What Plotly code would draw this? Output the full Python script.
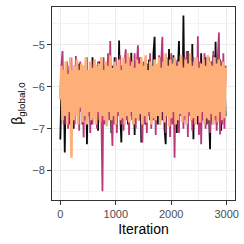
import plotly.graph_objects as go

# Chain values, one sample per 20 iterations
chain1 = [
    -7.26, -6.0, -6.6, -5.7, -7.57, -5.8, -6.5, -5.6, -6.9, -5.5,
    -6.7, -5.7, -7.0, -5.5, -6.6, -5.8, -6.8, -5.45, -6.5, -5.6,
    -6.9, -5.7, -6.6, -5.4, -7.37, -5.6, -6.7, -5.5, -6.9, -5.3,
    -6.6, -5.6, -6.8, -5.5, -7.05, -5.4, -6.7, -5.6, -6.9, -5.5,
    -6.6, -5.45, -6.8, -5.35, -6.7, -5.6, -7.1, -5.5, -6.6, -5.3,
    -6.8, -5.6, -6.7, -4.90, -6.6, -7.33, -5.5, -6.8, -5.4, -6.7,
    -5.5, -6.9, -5.6, -6.6, -5.19, -6.8, -5.5, -7.15, -5.4, -6.7,
    -5.6, -6.8, -5.3, -7.33, -5.5, -6.6, -5.6, -6.9, -5.45, -6.7,
    -5.35, -6.8, -5.5, -6.6, -5.2, -4.81, -6.7, -5.6, -6.9, -5.4,
    -6.6, -5.3, -6.8, -5.5, -7.0, -7.37, -5.6, -6.7, -5.1, -6.9,
    -5.5, -6.6, -5.25, -6.8, -5.4, -7.1, -5.6, -4.91, -6.7, -5.3,
    -6.8, -4.30, -6.6, -5.5, -6.9, -5.15, -6.7, -5.4, -6.8, -4.98,
    -7.25, -5.5, -6.7, -5.3, -6.9, -5.6, -6.6, -5.2, -6.8, -5.45,
    -6.7, -5.3, -6.9, -5.5, -6.6, -7.49, -5.4, -6.8, -5.25, -6.7,
    -4.93, -6.9, -5.5, -6.6, -5.35, -7.05, -5.4, -6.8, -5.6, -6.7,
]
chain2 = [
    -6.2, -5.5, -5.15, -6.9, -5.6, -6.7, -5.4, -7.0, -5.5, -6.6,
    -5.31, -6.8, -5.6, -6.9, -5.27, -6.7, -5.5, -7.05, -5.4, -6.6,
    -5.6, -7.21, -5.5, -6.8, -5.3, -6.7, -5.6, -7.1, -5.45, -6.9,
    -5.35, -6.7, -5.6, -7.0, -5.4, -6.8, -5.5, -6.6, -8.49, -5.3,
    -6.9, -5.6, -6.7, -5.2, -6.8, -4.91, -6.6, -7.41, -5.5, -6.9,
    -5.3, -7.1, -5.6, -6.7, -5.25, -6.9, -5.5, -7.05, -5.4, -5.11,
    -6.8, -5.5, -7.15, -5.3, -6.7, -5.6, -6.9, -5.2, -7.0, -5.45,
    -5.01, -6.8, -5.5, -6.6, -7.33, -5.4, -6.9, -5.3, -7.1, -5.6,
    -6.7, -5.2, -7.0, -5.5, -6.8, -5.35, -7.15, -5.6, -6.7, -5.25,
    -6.9, -5.4, -4.81, -6.8, -5.5, -7.1, -5.3, -6.7, -5.6, -7.2,
    -5.2, -6.9, -5.5, -7.69, -5.35, -6.8, -5.6, -7.1, -5.25, -6.7,
    -5.5, -7.0, -5.3, -6.8, -5.15, -7.2, -5.6, -6.7, -5.4, -7.05,
    -5.3, -6.9, -5.5, -6.7, -4.80, -7.15, -5.4, -7.37, -5.6, -6.8,
    -5.2, -7.0, -5.5, -6.7, -5.3, -7.1, -5.45, -6.9, -5.15, -6.8,
    -5.5, -7.05, -5.3, -4.71, -7.14, -5.4, -6.9, -5.2, -7.0, -5.5,
]
chain3 = [
    -6.3, -5.5, -6.8, -5.6, -6.7, -5.4, -6.9, -5.7, -6.6, -5.3,
    -7.69, -5.6, -6.8, -5.5, -6.7, -5.35, -6.9, -5.6, -6.5, -5.45,
    -6.85, -5.5, -6.7, -5.3, -6.9, -5.6, -6.6, -5.4, -6.8, -5.55,
    -6.75, -5.35, -6.9, -5.5, -6.6, -5.45, -6.85, -5.3, -6.7, -5.6,
    -6.8, -5.4, -6.95, -5.5, -6.6, -5.25, -6.8, -5.55, -6.7, -5.4,
    -6.9, -5.5, -6.6, -5.35, -6.8, -5.6, -6.75, -5.3, -6.9, -5.45,
    -6.7, -5.2, -6.85, -5.5, -6.6, -5.4, -6.9, -5.55, -6.75, -5.35,
    -6.8, -5.45, -6.65, -5.3, -6.9, -5.5, -6.7, -5.25, -6.85, -5.6,
    -6.6, -5.4, -6.9, -5.5, -6.75, -5.35, -6.8, -5.45, -6.7, -5.3,
    -6.9, -5.55, -6.6, -5.4, -6.85, -5.2, -6.7, -5.5, -6.95, -5.35,
    -6.75, -5.45, -6.6, -5.3, -6.9, -5.5, -6.8, -5.4, -6.65, -5.25,
    -6.85, -5.55, -6.7, -5.35, -6.9, -5.45, -6.6, -5.2, -6.8, -5.5,
    -6.75, -5.4, -6.9, -5.3, -6.7, -5.55, -6.85, -5.45, -6.6, -5.35,
    -6.9, -5.5, -6.75, -5.25, -6.8, -5.4, -6.65, -5.5, -6.9, -5.3,
    -6.7, -5.45, -6.85, -5.35, -6.6, -5.5, -6.8, -5.4, -6.75, -5.55,
]
chains = [chain1, chain2, chain3]
chain_colors = ["#0a0a0a", "#B8387A", "#FDAF78"]
chain_widths = [1.8, 1.8, 2.6]
step = 20

x_ticks = [0, 1000, 2000, 3000]
y_ticks = [-8, -7, -6, -5]

fig = go.Figure()
for vals, col, w in zip(chains, chain_colors, chain_widths):
    iters = list(range(0, step * len(vals), step))
    fig.add_trace(go.Scatter(x=iters, y=vals, mode="lines",
                             line=dict(color=col, width=w, simplify=False),
                             showlegend=False, hoverinfo="skip"))

axis_common = dict(
    showline=True, mirror=True, linecolor="#333333", linewidth=1,
    ticks="outside", ticklen=4, tickcolor="#333333", tickwidth=1,
    showgrid=True, gridcolor="#EBEBEB", gridwidth=1, zeroline=False,
    automargin=False,
    tickfont=dict(family="Liberation Sans, Arial, sans-serif", size=11, color="#4D4D4D"),
)

fig.update_layout(
    width=244, height=244,
    margin=dict(l=52, r=9, t=7, b=44, autoexpand=False),
    paper_bgcolor="white", plot_bgcolor="white",
    font=dict(family="Liberation Sans, Arial, sans-serif", color="black"),
    xaxis=dict(axis_common, range=[-150, 3150], tickvals=x_ticks,
               minor=dict(showgrid=True, gridcolor="#F3F3F3", gridwidth=0.6,
                          tickvals=[500, 1500, 2500], ticks=""),
               title=dict(text="Iteration", font=dict(size=14), standoff=4)),
    yaxis=dict(axis_common, range=[-8.7, -4.1], tickvals=y_ticks,
               minor=dict(showgrid=True, gridcolor="#F3F3F3", gridwidth=0.6,
                          tickvals=[-8.5, -7.5, -6.5, -5.5, -4.5], ticks=""),
               title=dict(text="β<sub>global,0</sub>", font=dict(size=14), standoff=6)),
)

fig.write_html("out.html", config={"displayModeBar": False},
               post_script="document.body.style.margin='0';")
